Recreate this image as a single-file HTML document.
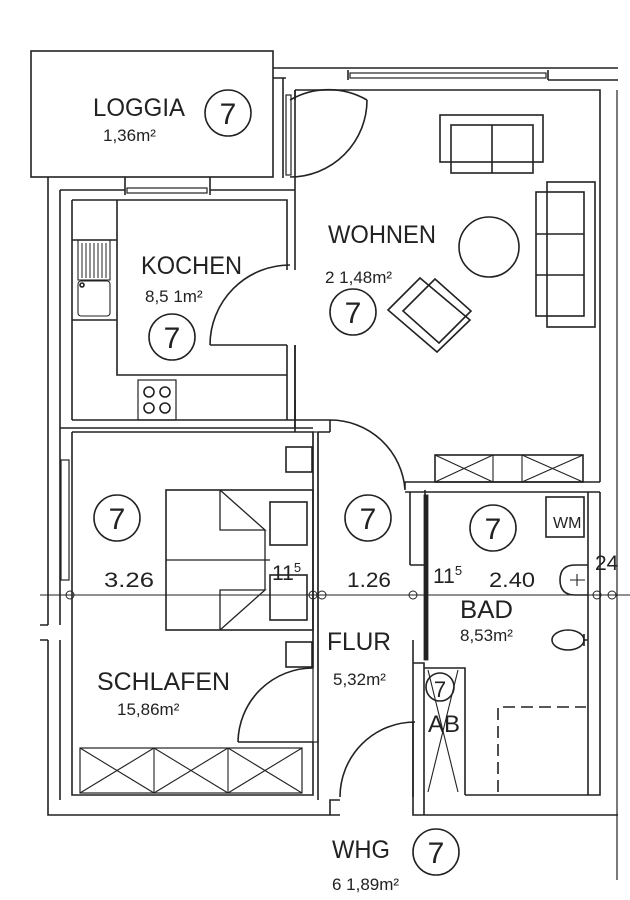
<!DOCTYPE html>
<html><head><meta charset="utf-8"><style>
html,body{margin:0;padding:0;background:#fff;}
svg{display:block}
text{font-family:"Liberation Sans",sans-serif;fill:#222;}
</style></head><body>
<svg width="630" height="900" viewBox="0 0 630 900" xmlns="http://www.w3.org/2000/svg">
<g fill="none" stroke="#222" stroke-width="1.6">
<rect x="31" y="51" width="242" height="126"/>
<path d="M273 68 H618 M273 78 H286 M348 70 V80 M548 70 V80 M548 80 H618"/>
<rect x="350" y="73" width="196" height="5" stroke-width="1.2"/>
<path d="M295 90 H600 V482"/>
<path d="M283 78 V178 M295 90 V100"/>
<rect x="286" y="95" width="5" height="80" stroke-width="1.2"/>
<path d="M290 100 A77 77 0 0 1 367 100 M290 177 A77 77 0 0 0 367 100"/>
<path d="M617 90 V880" stroke-width="1.2"/>
<path d="M48 177 V625 M60 190 V625 M48 640 V815 H340 M60 640 V800"/>
<path d="M48 625 H40 M48 640 H40"/>
<rect x="61" y="460" width="8" height="120" stroke-width="1.2"/>
<path d="M60 190 H125 M210 190 H295 M125 177 V195 M210 177 V195"/>
<rect x="127" y="188" width="80" height="5" stroke-width="1.2"/>
<path d="M72 200 V420 M72 200 H117 M117 200 V375 H287 M117 200 H287 V270 M117 240 H72 M117 320 H72"/>
<rect x="78" y="240" width="32" height="40" stroke-width="1.1"/>
<path d="M82 243 V278 M86 243 V278 M90 243 V278 M94 243 V278 M98 243 V278 M102 243 V278 M106 243 V278" stroke-width="1"/>
<rect x="78" y="281" width="32" height="35" rx="3" stroke-width="1.1"/>
<circle cx="82" cy="285" r="2"/>
<rect x="138" y="380" width="38" height="40" stroke-width="1.2"/>
<circle cx="149" cy="392" r="5"/><circle cx="165" cy="392" r="5"/>
<circle cx="149" cy="408" r="5"/><circle cx="165" cy="408" r="5"/>
<path d="M72 420 H287 M295 270 V90 M287 345 V420 H295 V345 M210 345 H287 M210 345 A80 80 0 0 1 290 265"/>
<path d="M60 428 H313 M72 432 H313 V668 M313 742 V795 H72 V432"/>
<path d="M295 428 V400"/>
<path d="M295 345 V420 M295 420 H330 M318 432 V800 M330 432 V420 M330 420 A75 75 0 0 1 405 490 M405 490 V482 H600 M405 492 H600"/>
<path d="M318 432 H330 M295 420 V432"/>
<rect x="313" y="432" width="5" height="310" stroke-width="1.2"/>
<path d="M238 742 A75 75 0 0 1 313 668 M238 742 H313"/>
<rect x="80" y="748" width="222" height="45" stroke-width="1.2"/>
<path d="M154 748 V793 M228 748 V793 M80 748 L154 793 M154 748 L80 793 M154 748 L228 793 M228 748 L154 793 M228 748 L302 793 M302 748 L228 793" stroke-width="1.1"/>
<rect x="166" y="490" width="147" height="140"/>
<path d="M166 560 H270 M220 490 V530 H265 L220 490 M220 630 V590 H265 L220 630 M265 530 V590" stroke-width="1.3"/>
<rect x="270" y="502" width="37" height="43"/><rect x="270" y="575" width="37" height="45"/>
<rect x="286" y="447" width="26" height="25"/><rect x="286" y="642" width="26" height="25"/>
<path d="M340 800 H330 V815 M340 797 A75 75 0 0 1 415 722 M413 722 V797"/>
<path d="M410 492 V565 M425 492 V565 M410 565 H425 M425 490 V655 M413 640 V663 H424 V670 M424 670 V815 M424 668 H465 V795 M413 663 V815 H618"/>
<rect x="424" y="495" width="4" height="165" fill="#222" stroke-width="0.8"/>
<path d="M465 795 H600 V492 M588 492 V795"/>
<path d="M428 670 L458 792 M458 670 L428 792" stroke-width="1.1"/>
<rect x="546" y="497" width="38" height="40"/>
<path d="M588 565 H575 Q560 565 560 580 Q560 595 575 595 H588" />
<path d="M570 580 H585 M577 574 V586" stroke-width="1.1"/>
<ellipse cx="568" cy="640" rx="16" ry="10"/><path d="M584 634 V646 M584 640 H588"/>
<path d="M498 792 V707 H586" stroke-dasharray="12 6"/>
<rect x="440" y="115" width="103" height="47"/><rect x="451" y="125" width="82" height="48"/>
<path d="M492 125 V173"/>
<rect x="547" y="182" width="48" height="145"/><rect x="536" y="192" width="48" height="124"/>
<path d="M536 234 H584 M536 275 H584"/>
<circle cx="489" cy="247" r="30"/>
<path d="M388 310 L420 278 L470 320 L437 352 Z M403 311 L435 279 L471 311 L439 343 Z"/>
<rect x="435" y="455" width="148" height="27"/>
<path d="M493 455 V482 M522 455 V482 M435 455 L493 482 M493 455 L435 482 M522 455 L583 482 M583 455 L522 482" stroke-width="1.1"/>
<path d="M40 595 H630" stroke-width="1"/>
<circle cx="70" cy="595" r="4" stroke-width="1"/><circle cx="313" cy="595" r="4" stroke-width="1"/><circle cx="322" cy="595" r="4" stroke-width="1"/>
<circle cx="413" cy="595" r="4" stroke-width="1"/><circle cx="597" cy="595" r="4" stroke-width="1"/><circle cx="612" cy="595" r="4" stroke-width="1"/>
<circle cx="228" cy="113" r="23"/><circle cx="172" cy="337" r="23"/><circle cx="353" cy="312" r="23"/>
<circle cx="117" cy="518" r="23"/><circle cx="368" cy="518" r="23"/><circle cx="493" cy="528" r="23"/>
<circle cx="440" cy="687" r="14"/><circle cx="436" cy="852" r="23"/>
</g>
<g font-size="25">
<text x="93" y="116" textLength="92" lengthAdjust="spacingAndGlyphs">LOGGIA</text>
<text x="141" y="274" textLength="101" lengthAdjust="spacingAndGlyphs">KOCHEN</text>
<text x="328" y="243" textLength="108" lengthAdjust="spacingAndGlyphs">WOHNEN</text>
<text x="97" y="690" textLength="133" lengthAdjust="spacingAndGlyphs">SCHLAFEN</text>
<text x="327" y="650" textLength="64" lengthAdjust="spacingAndGlyphs">FLUR</text>
<text x="460" y="618" textLength="53" lengthAdjust="spacingAndGlyphs">BAD</text>
<text x="332" y="858" textLength="58" lengthAdjust="spacingAndGlyphs">WHG</text>
</g>
<g font-size="17">
<text x="103" y="141">1,36m²</text>
<text x="145" y="302">8,5 1m²</text>
<text x="325" y="283">2 1,48m²</text>
<text x="117" y="715">15,86m²</text>
<text x="333" y="685">5,32m²</text>
<text x="460" y="641">8,53m²</text>
<text x="332" y="890">6 1,89m²</text>
</g>
<g font-size="21">
<text x="104" y="587" textLength="50" lengthAdjust="spacingAndGlyphs">3.26</text>
<text x="347" y="587" textLength="44" lengthAdjust="spacingAndGlyphs">1.26</text>
<text x="489" y="587" textLength="46" lengthAdjust="spacingAndGlyphs">2.40</text>
<text x="272" y="580">11<tspan font-size="13" dy="-8">5</tspan></text>
<text x="433" y="583">11<tspan font-size="13" dy="-8">5</tspan></text>
<text x="595" y="570">24</text>
<text x="553" y="528" font-size="16">WM</text>
<text x="428" y="732" font-size="24">AB</text>
</g>
<g font-size="30" text-anchor="middle">
<text x="228" y="124">7</text><text x="172" y="348">7</text><text x="353" y="323">7</text>
<text x="117" y="529">7</text><text x="368" y="529">7</text><text x="493" y="539">7</text>
<text x="440" y="697" font-size="22">7</text><text x="436" y="863">7</text>
</g>
</svg>
</body></html>
